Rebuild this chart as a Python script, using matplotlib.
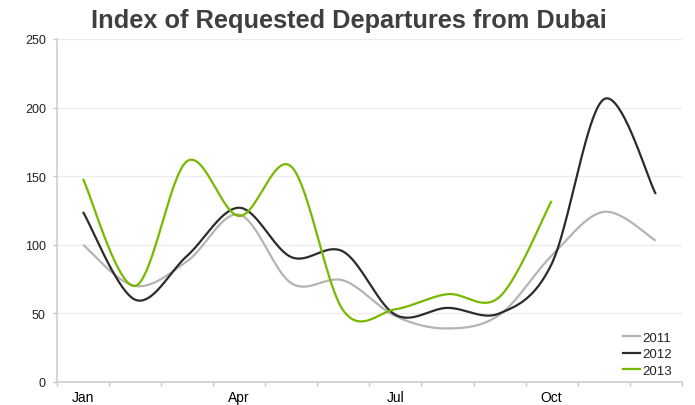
import numpy as np
import matplotlib
matplotlib.use("Agg")
import matplotlib.pyplot as plt
from matplotlib.lines import Line2D

months = ["Jan", "Feb", "Mar", "Apr", "May", "Jun",
          "Jul", "Aug", "Sep", "Oct", "Nov", "Dec"]
shown_months = ["Jan", "Apr", "Jul", "Oct"]

idx_2011 = [100, 70, 88, 122, 72, 74, 48, 39, 49, 92, 124, 103]
idx_2012 = [124, 60, 92, 127, 91, 95, 49, 54, 50, 86, 206, 137]
idx_2013 = [148, 70, 161, 121, 157, 52, 53, 64, 62, 132]

y_ticks = [0, 50, 100, 150, 200, 250]


def smooth(values, n=40):
    """Cardinal (Catmull-Rom style) Bezier smoothing through each point."""
    p = np.asarray(values, dtype=float)
    x = np.arange(len(p), dtype=float)
    xs, ys = [], []
    for i in range(len(p) - 1):
        i0 = max(i - 1, 0)
        i3 = min(i + 2, len(p) - 1)
        c1x = x[i] + (x[i + 1] - x[i0]) / 6
        c1y = p[i] + (p[i + 1] - p[i0]) / 6
        c2x = x[i + 1] - (x[i3] - x[i]) / 6
        c2y = p[i + 1] - (p[i3] - p[i]) / 6
        t = np.linspace(0, 1, n, endpoint=(i == len(p) - 2))
        a, b, c, d = (1 - t) ** 3, 3 * (1 - t) ** 2 * t, 3 * (1 - t) * t ** 2, t ** 3
        xs.append(a * x[i] + b * c1x + c * c2x + d * x[i + 1])
        ys.append(a * p[i] + b * c1y + c * c2y + d * p[i + 1])
    return np.concatenate(xs), np.concatenate(ys)


plt.rcParams["font.family"] = ["Liberation Sans", "DejaVu Sans"]

fig = plt.figure(figsize=(6.95, 4.06), dpi=100)
ax = fig.add_axes([0.082, 0.0567, 0.899, 0.8448])

series = [
    ("2011", idx_2011, "#b4b4b4"),
    ("2012", idx_2012, "#2b2b2b"),
    ("2013", idx_2013, "#76b900"),
]
for label, vals, color in series:
    sx, sy = smooth(vals)
    ax.plot(sx, sy, color=color, lw=1.6, solid_capstyle="butt", zorder=3)

ax.set_xlim(-0.5, 11.5)
ax.set_ylim(0, 250)

ax.set_yticks(y_ticks)
ax.set_yticklabels([str(v) for v in y_ticks])
ax.grid(axis="y", color="#ececec", lw=1.0, zorder=0)

# category boundary ticks, labels only on quarter months
ax.set_xticks(np.arange(-0.5, 12.0, 1.0))
ax.set_xticklabels([])
ax.set_xticks([months.index(m) for m in shown_months], minor=True)
ax.set_xticklabels(shown_months, minor=True)
ax.tick_params(axis="x", which="minor", length=0, pad=6)
ax.tick_params(axis="x", which="major", length=3, color="#c8c8c8", width=1)
ax.tick_params(axis="y", length=3, color="#c8c8c8", width=1, pad=5)
ax.tick_params(labelsize=9, labelcolor="#222222")

for side in ("top", "right"):
    ax.spines[side].set_visible(False)
for side in ("left", "bottom"):
    ax.spines[side].set_color("#cfcfcf")
    ax.spines[side].set_linewidth(1.2)

handles = [Line2D([0], [0], color=c, lw=1.6) for _, _, c in series]
leg = fig.legend(handles, [s[0] for s in series], loc="lower right",
                 bbox_to_anchor=(0.967, 0.07), bbox_transform=fig.transFigure,
                 frameon=False, fontsize=9.5, handlelength=1.35,
                 handletextpad=0.15, labelspacing=0.32, borderpad=0,
                 borderaxespad=0)
for t in leg.get_texts():
    t.set_color("#222222")

fig.text(0.502, 0.979, "Index of Requested Departures from Dubai",
         ha="center", va="top", fontsize=18.3, fontweight="bold",
         color="#3f3f3f")

fig.savefig("out.png", dpi=100)
